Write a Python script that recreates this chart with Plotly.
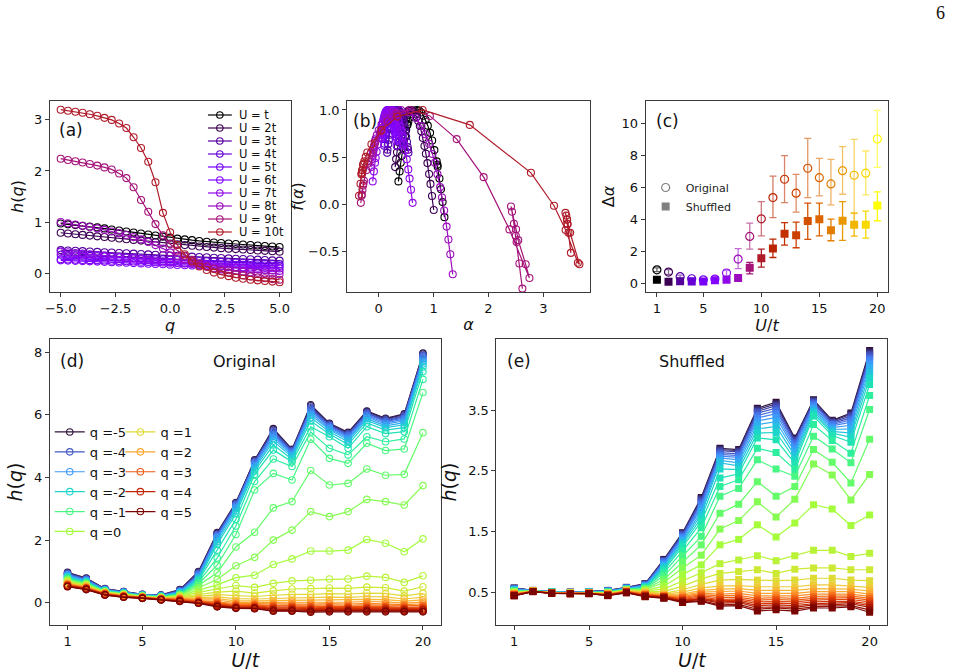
import math
import numpy as np
import plotly.graph_objects as go
from plotly.colors import sample_colorscale

# ---------------- data ----------------
U_VALUES = list(range(1, 21))
Q_VALUES = [-5.0, -4.67, -4.33, -4.0, -3.67, -3.33, -3.0, -2.67, -2.33, -2.0, -1.67,
            -1.33, -1.0, -0.67, -0.33, 0.0, 0.33, 0.67, 1.0, 1.33, 1.67, 2.0, 2.33,
            2.67, 3.0, 3.33, 3.67, 4.0, 4.33, 4.67, 5.0]
A_LEGEND_LABELS = ["U = t", "U = 2t", "U = 3t", "U = 4t", "U = 5t",
                   "U = 6t", "U = 7t", "U = 8t", "U = 9t", "U = 10t"]

# h(q) of the original series, one list per U (q = -5 ... 5)
h_orig_u01 = [0.97, 0.955, 0.94, 0.925, 0.91, 0.895, 0.875, 0.855, 0.835, 0.815, 0.795, 0.775, 0.755, 0.735, 0.715, 0.695, 0.675, 0.66, 0.645, 0.63, 0.615, 0.60, 0.59, 0.58, 0.57, 0.56, 0.55, 0.54, 0.53, 0.52, 0.51]
h_orig_u02 = [0.79, 0.776, 0.762, 0.748, 0.734, 0.72, 0.706, 0.692, 0.678, 0.664, 0.65, 0.636, 0.622, 0.607, 0.592, 0.577, 0.562, 0.548, 0.535, 0.522, 0.51, 0.499, 0.489, 0.479, 0.47, 0.461, 0.452, 0.444, 0.436, 0.428, 0.42]
h_orig_u03 = [0.45, 0.444, 0.437, 0.43, 0.423, 0.416, 0.409, 0.402, 0.395, 0.388, 0.381, 0.373, 0.366, 0.358, 0.351, 0.344, 0.337, 0.33, 0.323, 0.316, 0.309, 0.302, 0.295, 0.289, 0.282, 0.276, 0.27, 0.263, 0.257, 0.25, 0.244]
h_orig_u04 = [0.36, 0.355, 0.349, 0.343, 0.337, 0.331, 0.325, 0.318, 0.312, 0.305, 0.299, 0.292, 0.285, 0.278, 0.271, 0.264, 0.257, 0.25, 0.244, 0.238, 0.232, 0.226, 0.22, 0.214, 0.208, 0.203, 0.197, 0.191, 0.186, 0.18, 0.175]
h_orig_u05 = [0.27, 0.266, 0.262, 0.258, 0.254, 0.25, 0.246, 0.241, 0.237, 0.232, 0.228, 0.223, 0.218, 0.213, 0.208, 0.203, 0.198, 0.194, 0.19, 0.186, 0.181, 0.177, 0.173, 0.169, 0.165, 0.161, 0.157, 0.153, 0.149, 0.145, 0.141]
h_orig_u06 = [0.25, 0.245, 0.24, 0.235, 0.23, 0.225, 0.22, 0.214, 0.208, 0.202, 0.196, 0.19, 0.184, 0.178, 0.172, 0.166, 0.16, 0.154, 0.148, 0.143, 0.138, 0.133, 0.128, 0.123, 0.118, 0.113, 0.109, 0.105, 0.10, 0.096, 0.092]
h_orig_u07 = [0.42, 0.407, 0.394, 0.381, 0.368, 0.355, 0.342, 0.329, 0.316, 0.302, 0.288, 0.274, 0.26, 0.246, 0.232, 0.218, 0.204, 0.19, 0.177, 0.164, 0.151, 0.139, 0.127, 0.115, 0.104, 0.093, 0.082, 0.071, 0.061, 0.051, 0.041]
h_orig_u08 = [1.00, 0.977, 0.953, 0.928, 0.902, 0.875, 0.846, 0.815, 0.782, 0.746, 0.705, 0.66, 0.608, 0.548, 0.48, 0.405, 0.33, 0.262, 0.205, 0.16, 0.124, 0.096, 0.074, 0.056, 0.041, 0.028, 0.017, 0.007, -0.002, -0.01, -0.018]
h_orig_u09 = [2.24, 2.215, 2.19, 2.165, 2.135, 2.105, 2.07, 2.03, 1.95, 1.86, 1.68, 1.43, 1.20, 0.96, 0.74, 0.57, 0.44, 0.34, 0.26, 0.19, 0.13, 0.08, 0.04, 0.01, -0.02, -0.045, -0.067, -0.085, -0.102, -0.117, -0.13]
h_orig_u10 = [3.20, 3.18, 3.16, 3.14, 3.11, 3.08, 3.04, 3.00, 2.93, 2.84, 2.66, 2.45, 2.18, 1.78, 1.18, 0.80, 0.55, 0.37, 0.23, 0.13, 0.06, 0.01, -0.03, -0.06, -0.09, -0.11, -0.13, -0.142, -0.154, -0.166, -0.178]
h_orig_u11 = [4.56, 4.54, 4.52, 4.49, 4.46, 4.42, 4.38, 4.33, 4.27, 4.20, 4.10, 3.87, 3.60, 2.25, 1.45, 0.88, 0.49, 0.31, 0.20, 0.12, 0.06, 0.01, -0.03, -0.06, -0.09, -0.11, -0.13, -0.15, -0.16, -0.18, -0.19]
h_orig_u12 = [5.56, 5.53, 5.50, 5.46, 5.42, 5.37, 5.32, 5.25, 5.16, 5.04, 4.88, 4.59, 4.13, 3.03, 2.00, 1.22, 0.62, 0.38, 0.24, 0.14, 0.07, 0.01, -0.04, -0.08, -0.11, -0.14, -0.17, -0.20, -0.22, -0.25, -0.27]
h_orig_u13 = [4.90, 4.88, 4.86, 4.84, 4.81, 4.78, 4.74, 4.70, 4.65, 4.58, 4.50, 4.35, 3.92, 3.23, 2.32, 1.40, 0.70, 0.44, 0.27, 0.16, 0.08, 0.02, -0.03, -0.07, -0.11, -0.14, -0.17, -0.20, -0.22, -0.25, -0.27]
h_orig_u14 = [6.32, 6.29, 6.25, 6.21, 6.17, 6.12, 6.06, 5.99, 5.91, 5.80, 5.62, 5.45, 5.22, 4.22, 2.91, 1.65, 0.72, 0.45, 0.27, 0.16, 0.08, 0.02, -0.04, -0.08, -0.12, -0.16, -0.19, -0.22, -0.25, -0.27, -0.30]
h_orig_u15 = [5.73, 5.71, 5.69, 5.66, 5.63, 5.60, 5.56, 5.52, 5.46, 5.39, 5.30, 4.93, 4.61, 3.76, 2.75, 1.65, 0.76, 0.47, 0.29, 0.18, 0.09, 0.03, -0.03, -0.08, -0.12, -0.15, -0.18, -0.21, -0.24, -0.26, -0.29]
h_orig_u16 = [5.44, 5.42, 5.39, 5.36, 5.33, 5.29, 5.25, 5.20, 5.14, 5.05, 4.93, 4.72, 4.45, 3.81, 2.91, 1.68, 0.76, 0.46, 0.28, 0.17, 0.09, 0.02, -0.04, -0.08, -0.12, -0.15, -0.18, -0.21, -0.24, -0.26, -0.29]
h_orig_u17 = [6.12, 6.10, 6.07, 6.04, 6.01, 5.97, 5.93, 5.88, 5.82, 5.74, 5.62, 5.30, 5.09, 4.27, 3.30, 2.02, 0.85, 0.50, 0.31, 0.20, 0.11, 0.04, -0.02, -0.07, -0.11, -0.15, -0.18, -0.21, -0.24, -0.26, -0.29]
h_orig_u18 = [5.89, 5.87, 5.84, 5.81, 5.78, 5.74, 5.70, 5.65, 5.59, 5.51, 5.40, 5.14, 4.86, 4.07, 3.23, 1.90, 0.81, 0.48, 0.30, 0.19, 0.10, 0.03, -0.03, -0.08, -0.12, -0.15, -0.18, -0.21, -0.24, -0.26, -0.29]
h_orig_u19 = [6.03, 6.00, 5.97, 5.94, 5.90, 5.86, 5.81, 5.75, 5.68, 5.59, 5.46, 5.23, 4.91, 4.10, 3.12, 1.63, 0.65, 0.37, 0.22, 0.12, 0.05, -0.01, -0.06, -0.10, -0.14, -0.17, -0.20, -0.22, -0.25, -0.27, -0.29]
h_orig_u20 = [7.97, 7.94, 7.91, 7.88, 7.84, 7.80, 7.75, 7.69, 7.62, 7.53, 7.38, 7.13, 6.71, 5.43, 3.74, 2.04, 0.86, 0.51, 0.30, 0.18, 0.09, 0.02, -0.04, -0.09, -0.13, -0.16, -0.19, -0.22, -0.24, -0.27, -0.29]

# h(q) of the shuffled series, one list per U (q = -5 ... 5)
h_shuf_u01 = [0.57, 0.566, 0.562, 0.558, 0.554, 0.55, 0.546, 0.541, 0.536, 0.531, 0.526, 0.521, 0.516, 0.511, 0.506, 0.50, 0.495, 0.49, 0.485, 0.48, 0.476, 0.472, 0.468, 0.464, 0.46, 0.456, 0.452, 0.449, 0.446, 0.443, 0.44]
h_shuf_u02 = [0.53, 0.529, 0.528, 0.528, 0.527, 0.526, 0.526, 0.525, 0.524, 0.524, 0.523, 0.522, 0.522, 0.521, 0.52, 0.52, 0.519, 0.518, 0.518, 0.517, 0.516, 0.516, 0.515, 0.514, 0.514, 0.513, 0.512, 0.512, 0.511, 0.51, 0.51]
h_shuf_u03 = [0.51, 0.509, 0.508, 0.507, 0.506, 0.505, 0.504, 0.503, 0.502, 0.501, 0.50, 0.499, 0.498, 0.497, 0.496, 0.495, 0.494, 0.493, 0.492, 0.491, 0.49, 0.489, 0.488, 0.487, 0.486, 0.485, 0.484, 0.483, 0.482, 0.481, 0.48]
h_shuf_u04 = [0.50, 0.499, 0.498, 0.497, 0.496, 0.495, 0.494, 0.493, 0.492, 0.491, 0.49, 0.489, 0.488, 0.487, 0.486, 0.486, 0.485, 0.484, 0.483, 0.482, 0.482, 0.481, 0.48, 0.479, 0.479, 0.478, 0.478, 0.477, 0.476, 0.476, 0.475]
h_shuf_u05 = [0.51, 0.509, 0.508, 0.507, 0.506, 0.505, 0.503, 0.502, 0.501, 0.50, 0.498, 0.497, 0.496, 0.494, 0.493, 0.492, 0.49, 0.489, 0.488, 0.487, 0.486, 0.485, 0.484, 0.483, 0.482, 0.481, 0.48, 0.479, 0.478, 0.477, 0.476]
h_shuf_u06 = [0.53, 0.528, 0.525, 0.523, 0.52, 0.518, 0.515, 0.512, 0.509, 0.506, 0.503, 0.50, 0.497, 0.494, 0.491, 0.488, 0.485, 0.482, 0.479, 0.476, 0.473, 0.47, 0.467, 0.464, 0.461, 0.458, 0.455, 0.452, 0.449, 0.446, 0.443]
h_shuf_u07 = [0.58, 0.577, 0.574, 0.571, 0.568, 0.565, 0.562, 0.559, 0.556, 0.553, 0.55, 0.547, 0.544, 0.541, 0.538, 0.535, 0.532, 0.529, 0.526, 0.523, 0.52, 0.517, 0.514, 0.511, 0.508, 0.505, 0.502, 0.499, 0.496, 0.493, 0.49]
h_shuf_u08 = [0.64, 0.635, 0.63, 0.624, 0.618, 0.612, 0.606, 0.599, 0.592, 0.585, 0.577, 0.569, 0.56, 0.551, 0.541, 0.531, 0.521, 0.511, 0.502, 0.493, 0.485, 0.477, 0.47, 0.463, 0.457, 0.451, 0.445, 0.44, 0.435, 0.43, 0.425]
h_shuf_u09 = [1.04, 1.03, 1.02, 1.01, 1.00, 0.98, 0.96, 0.94, 0.92, 0.89, 0.86, 0.82, 0.77, 0.71, 0.66, 0.60, 0.55, 0.51, 0.48, 0.47, 0.46, 0.45, 0.44, 0.44, 0.43, 0.43, 0.42, 0.42, 0.41, 0.41, 0.40]
h_shuf_u10 = [1.48, 1.47, 1.46, 1.44, 1.42, 1.40, 1.38, 1.35, 1.32, 1.29, 1.25, 1.18, 1.10, 1.00, 0.90, 0.79, 0.68, 0.60, 0.54, 0.50, 0.47, 0.45, 0.43, 0.41, 0.40, 0.38, 0.37, 0.36, 0.35, 0.34, 0.33]
h_shuf_u11 = [2.06, 2.04, 2.02, 1.99, 1.96, 1.92, 1.88, 1.83, 1.78, 1.72, 1.66, 1.56, 1.42, 1.28, 1.11, 0.95, 0.82, 0.72, 0.63, 0.57, 0.53, 0.50, 0.48, 0.46, 0.44, 0.42, 0.40, 0.39, 0.38, 0.36, 0.35]
h_shuf_u12 = [2.87, 2.85, 2.83, 2.80, 2.77, 2.74, 2.71, 2.67, 2.63, 2.53, 2.38, 2.24, 2.08, 1.80, 1.54, 1.28, 0.97, 0.81, 0.70, 0.60, 0.55, 0.51, 0.47, 0.44, 0.41, 0.38, 0.36, 0.34, 0.32, 0.29, 0.27]
h_shuf_u13 = [2.85, 2.83, 2.81, 2.78, 2.75, 2.72, 2.68, 2.63, 2.58, 2.52, 2.45, 2.35, 2.21, 1.95, 1.68, 1.37, 1.03, 0.84, 0.71, 0.61, 0.56, 0.52, 0.48, 0.45, 0.42, 0.39, 0.37, 0.35, 0.33, 0.30, 0.28]
h_shuf_u14 = [3.53, 3.51, 3.48, 3.45, 3.41, 3.37, 3.32, 3.26, 3.19, 3.12, 3.04, 2.87, 2.68, 2.32, 1.99, 1.61, 1.10, 0.87, 0.70, 0.59, 0.53, 0.48, 0.44, 0.40, 0.37, 0.34, 0.31, 0.28, 0.25, 0.22, 0.19]
h_shuf_u15 = [3.63, 3.60, 3.57, 3.53, 3.49, 3.44, 3.38, 3.31, 3.23, 3.13, 3.01, 2.80, 2.53, 2.08, 1.74, 1.41, 1.02, 0.81, 0.69, 0.59, 0.53, 0.48, 0.44, 0.41, 0.38, 0.35, 0.32, 0.29, 0.26, 0.24, 0.21]
h_shuf_u16 = [3.04, 3.02, 3.00, 2.97, 2.94, 2.90, 2.86, 2.81, 2.75, 2.69, 2.62, 2.52, 2.41, 2.24, 2.03, 1.64, 1.10, 0.88, 0.70, 0.59, 0.53, 0.48, 0.44, 0.40, 0.37, 0.34, 0.31, 0.28, 0.25, 0.22, 0.19]
h_shuf_u17 = [3.67, 3.66, 3.64, 3.62, 3.60, 3.57, 3.54, 3.51, 3.48, 3.44, 3.40, 3.26, 3.07, 2.85, 2.61, 1.94, 1.19, 0.90, 0.73, 0.62, 0.56, 0.51, 0.47, 0.43, 0.40, 0.37, 0.34, 0.31, 0.29, 0.26, 0.24]
h_shuf_u18 = [3.33, 3.32, 3.30, 3.28, 3.26, 3.24, 3.21, 3.18, 3.15, 3.12, 3.08, 3.00, 2.86, 2.64, 2.43, 1.87, 1.19, 0.90, 0.73, 0.62, 0.56, 0.51, 0.47, 0.44, 0.41, 0.38, 0.35, 0.32, 0.29, 0.27, 0.24]
h_shuf_u19 = [3.45, 3.43, 3.40, 3.37, 3.34, 3.30, 3.25, 3.19, 3.12, 3.05, 2.97, 2.79, 2.63, 2.30, 2.02, 1.60, 1.09, 0.87, 0.70, 0.60, 0.55, 0.51, 0.47, 0.44, 0.41, 0.38, 0.35, 0.33, 0.31, 0.28, 0.26]
h_shuf_u20 = [4.48, 4.45, 4.42, 4.39, 4.35, 4.31, 4.26, 4.20, 4.12, 4.03, 3.92, 3.74, 3.51, 3.02, 2.44, 1.77, 1.14, 0.87, 0.69, 0.58, 0.52, 0.47, 0.43, 0.40, 0.37, 0.34, 0.31, 0.28, 0.25, 0.21, 0.17]

# Delta alpha (panel c): mean, upper and lower error
dalpha_orig = [0.83, 0.69, 0.40, 0.27, 0.20, 0.25, 0.63, 1.50, 2.92, 4.02, 5.35, 6.50, 5.63, 7.19, 6.60, 6.21, 7.04, 6.75, 6.88, 9.02]
dalpha_orig_up = [0.12, 0.15, 0.10, 0.07, 0.06, 0.07, 0.18, 0.65, 0.83, 1.08, 1.35, 1.48, 1.18, 1.87, 1.21, 1.54, 1.50, 2.25, 1.39, 1.79]
dalpha_orig_dn = [0.12, 0.15, 0.10, 0.07, 0.06, 0.07, 0.18, 0.60, 0.80, 1.06, 1.25, 1.46, 1.19, 1.84, 1.14, 1.31, 1.48, 2.37, 1.36, 1.77]
dalpha_shuf = [0.21, 0.08, 0.12, 0.10, 0.10, 0.17, 0.21, 0.31, 0.96, 1.56, 2.17, 3.08, 3.00, 3.88, 4.00, 3.31, 3.90, 3.65, 3.65, 4.85]
dalpha_shuf_up = [0.04, 0.04, 0.08, 0.05, 0.04, 0.05, 0.07, 0.08, 0.33, 0.56, 0.58, 0.71, 0.81, 1.12, 1.00, 0.69, 1.20, 0.73, 0.85, 0.86]
dalpha_shuf_dn = [0.04, 0.04, 0.06, 0.05, 0.04, 0.05, 0.07, 0.08, 0.38, 0.56, 0.57, 0.70, 0.79, 1.15, 1.04, 0.66, 1.23, 0.71, 0.84, 0.95]

H_ORIG = [h_orig_u01, h_orig_u02, h_orig_u03, h_orig_u04, h_orig_u05, h_orig_u06, h_orig_u07,
          h_orig_u08, h_orig_u09, h_orig_u10, h_orig_u11, h_orig_u12, h_orig_u13, h_orig_u14,
          h_orig_u15, h_orig_u16, h_orig_u17, h_orig_u18, h_orig_u19, h_orig_u20]
H_SHUF = [h_shuf_u01, h_shuf_u02, h_shuf_u03, h_shuf_u04, h_shuf_u05, h_shuf_u06, h_shuf_u07,
          h_shuf_u08, h_shuf_u09, h_shuf_u10, h_shuf_u11, h_shuf_u12, h_shuf_u13, h_shuf_u14,
          h_shuf_u15, h_shuf_u16, h_shuf_u17, h_shuf_u18, h_shuf_u19, h_shuf_u20]
for _i, _row in enumerate(H_ORIG + H_SHUF):
    if len(_row) != len(Q_VALUES):
        raise ValueError(f"row {_i} has {len(_row)} values")

# ---------------- helpers ----------------
W, H = 962, 672
FONT = "DejaVu Sans"


def px(x):
    return x / W


def py(y):
    return 1 - y / H


def gnuplot(x, a=1.0):
    r = math.sqrt(x)
    g = x ** 3
    b = max(0.0, math.sin(2 * math.pi * x))
    return f"rgba({round(255 * r)},{round(255 * g)},{round(255 * b)},{a})"


turbo = sample_colorscale("Turbo", [i / (len(Q_VALUES) - 1) for i in range(len(Q_VALUES))])

fig = go.Figure()

# ---------------- (a) h(q) for U = 1..10 ----------------
for k in range(10):
    c = gnuplot(k / 19)
    fig.add_trace(go.Scatter(x=Q_VALUES, y=H_ORIG[k], xaxis="x", yaxis="y",
                             mode="lines+markers", showlegend=False,
                             line=dict(color=c, width=1.2),
                             marker=dict(symbol="circle-open", size=7, color=c, line=dict(width=1.1))))

# ---------------- (b) f(alpha) spectrum, Legendre transform of h(q) ----------------
qarr = np.array(Q_VALUES)
for k in range(10):
    c = gnuplot(k / 19)
    h = np.array(H_ORIG[k])
    dh = np.gradient(h, qarr)
    alpha = h + qarr * dh
    f = 1 + qarr ** 2 * dh
    fig.add_trace(go.Scatter(x=alpha, y=f, xaxis="x2", yaxis="y2",
                             mode="lines+markers", showlegend=False,
                             line=dict(color=c, width=1.2),
                             marker=dict(symbol="circle-open", size=7, color=c, line=dict(width=1.1))))

# ---------------- (c) Delta alpha ----------------
for k, U in enumerate(U_VALUES):
    c = gnuplot(k / 19)
    fig.add_trace(go.Scatter(x=[U], y=[dalpha_orig[k]], xaxis="x3", yaxis="y3", mode="markers",
                             showlegend=False,
                             error_y=dict(type="data", symmetric=False, array=[dalpha_orig_up[k]],
                                          arrayminus=[dalpha_orig_dn[k]], color=gnuplot(k / 19, 0.6),
                                          thickness=1.3, width=3.5),
                             marker=dict(symbol="circle-open", size=8, color=c, line=dict(width=1.2))))
for k, U in enumerate(U_VALUES):
    c = gnuplot(k / 19)
    fig.add_trace(go.Scatter(x=[U], y=[dalpha_shuf[k]], xaxis="x3", yaxis="y3", mode="markers",
                             showlegend=False,
                             error_y=dict(type="data", symmetric=False, array=[dalpha_shuf_up[k]],
                                          arrayminus=[dalpha_shuf_dn[k]], color=c,
                                          thickness=1.3, width=3.5),
                             marker=dict(symbol="square", size=8, color=c)))
fig.add_trace(go.Scatter(x=[None], y=[None], xaxis="x3", yaxis="y3", mode="markers", name="Original",
                         legend="legend2",
                         marker=dict(symbol="circle-open", size=8, color="#808080", line=dict(width=1.2))))
fig.add_trace(go.Scatter(x=[None], y=[None], xaxis="x3", yaxis="y3", mode="markers", name="Shuffled",
                         legend="legend2", marker=dict(symbol="square", size=8, color="#808080")))

# ---------------- (d) original h(q) vs U/t ----------------
for j, q in enumerate(Q_VALUES):
    ys = [H_ORIG[k][j] for k in range(len(U_VALUES))]
    is_int = abs(q - round(q)) < 1e-6
    qi = int(round(q))
    fig.add_trace(go.Scatter(x=U_VALUES, y=ys, xaxis="x4", yaxis="y4", mode="lines+markers",
                             name=f"q ={qi}", showlegend=is_int,
                             legend="legend3" if qi <= 0 else "legend4",
                             line=dict(color=turbo[j], width=1.2),
                             marker=dict(symbol="circle-open", size=6.5, color=turbo[j], line=dict(width=1.1))))

# ---------------- (e) shuffled h(q) vs U/t ----------------
for j, q in enumerate(Q_VALUES):
    ys = [H_SHUF[k][j] for k in range(len(U_VALUES))]
    fig.add_trace(go.Scatter(x=U_VALUES, y=ys, xaxis="x5", yaxis="y5", mode="lines+markers",
                             showlegend=False,
                             line=dict(color=turbo[j], width=1.2),
                             marker=dict(symbol="square", size=7, color=turbo[j])))

# ---------------- layout ----------------
LINE_C = "#3a3a3a"


def ax(domain, rng, tickvals, ticktext, title, tsize, standoff, anchor):
    return dict(domain=domain, range=rng, tickvals=tickvals, ticktext=ticktext,
                showline=True, linecolor=LINE_C, linewidth=1, mirror=True,
                ticks="outside", ticklen=4, tickwidth=1, tickcolor=LINE_C,
                showgrid=False, zeroline=False, anchor=anchor,
                tickfont=dict(family=FONT, size=13, color="#111"),
                title=dict(text=title, font=dict(family=FONT, size=tsize, color="#111"), standoff=standoff))


top_dom = [py(292), py(101)]
bot_dom = [py(625), py(339)]
U_TICKS = [1, 5, 10, 15, 20]

layout = dict(
    width=W, height=H, margin=dict(l=0, r=0, t=0, b=0),
    paper_bgcolor="white", plot_bgcolor="white",
    xaxis=ax([px(45), px(287)], [-5.5, 5.5], [-5, -2.5, 0, 2.5, 5],
             ["\u22125.0", "\u22122.5", "0.0", "2.5", "5.0"], "<i>q</i>", 16, 4, "y"),
    yaxis=ax(top_dom, [-0.37, 3.37], [0, 1, 2, 3], ["0", "1", "2", "3"], "<i>h</i>(<i>q</i>)", 16, 6, "x"),
    xaxis2=ax([px(344), px(588)], [-0.575, 3.85], [0, 1, 2, 3], ["0", "1", "2", "3"], "<i>\u03b1</i>", 16, 4, "y2"),
    yaxis2=ax(top_dom, [-0.93, 1.095], [-0.5, 0, 0.5, 1.0], ["\u22120.5", "0.0", "0.5", "1.0"],
              "<i>f</i>(<i>\u03b1</i>)", 16, 0, "x2"),
    xaxis3=ax([px(644), px(888)], [0.03, 20.95], U_TICKS, [str(v) for v in U_TICKS],
              "<i>U</i>/<i>t</i>", 16, 4, "y3"),
    yaxis3=ax(top_dom, [-0.56, 11.4], [0, 2, 4, 6, 8, 10], ["0", "2", "4", "6", "8", "10"],
              "\u0394<i>\u03b1</i>", 16, 2, "x3"),
    xaxis4=ax([px(45), px(438)], [0.05, 20.95], U_TICKS, [str(v) for v in U_TICKS],
              "<i>U</i>/<i>t</i>", 19, 2, "y4"),
    yaxis4=ax(bot_dom, [-0.71, 8.42], [0, 2, 4, 6, 8], ["0", "2", "4", "6", "8"],
              "<i>h</i>(<i>q</i>)", 19, 6, "x4"),
    xaxis5=ax([px(494), px(887)], [0.05, 20.95], U_TICKS, [str(v) for v in U_TICKS],
              "<i>U</i>/<i>t</i>", 19, 2, "y5"),
    yaxis5=ax(bot_dom, [-0.04, 4.67], [0.5, 1.5, 2.5, 3.5], ["0.5", "1.5", "2.5", "3.5"],
              "<i>h</i>(<i>q</i>)", 19, 6, "x5"),
    legend2=dict(x=px(644), y=py(173), xanchor="left", yanchor="top", bgcolor="rgba(0,0,0,0)",
                 font=dict(family=FONT, size=11, color="#222"), itemwidth=30),
    legend3=dict(x=px(45), y=py(417), xanchor="left", yanchor="top", bgcolor="rgba(0,0,0,0)",
                 font=dict(family=FONT, size=13, color="#111"), itemwidth=30),
    legend4=dict(x=px(116), y=py(417), xanchor="left", yanchor="top", bgcolor="rgba(0,0,0,0)",
                 font=dict(family=FONT, size=13, color="#111"), itemwidth=30),
)

# legend of panel (a), drawn as small line + circle samples with text
shapes = []
annotations = []
for k, lab in enumerate(A_LEGEND_LABELS):
    c = gnuplot(k / 19)
    yk = 115 + 13 * k
    shapes.append(dict(type="line", xref="paper", yref="paper", x0=px(204), x1=px(228),
                       y0=py(yk), y1=py(yk), line=dict(color=c, width=1.2)))
    shapes.append(dict(type="circle", xref="paper", yref="paper", x0=px(212.7), x1=px(219.3),
                       y0=py(yk + 3.3), y1=py(yk - 3.3), line=dict(color=c, width=1.1),
                       fillcolor="rgba(0,0,0,0)"))
    annotations.append(dict(text=lab, xref="paper", yref="paper", x=px(233), y=py(yk),
                            xanchor="left", yanchor="middle", showarrow=False,
                            font=dict(family=FONT, size=11.5, color="#111")))

for text, x, y, size in [("(a)", 52, 130, 17), ("(b)", 348, 121, 17), ("(c)", 652, 121, 17),
                         ("(d)", 53, 361, 17), ("(e)", 503, 361, 17)]:
    annotations.append(dict(text=text, xref="paper", yref="paper", x=px(x), y=py(y), xanchor="left",
                            yanchor="middle", showarrow=False, font=dict(family=FONT, size=size, color="#111")))
annotations.append(dict(text="Original", xref="paper", yref="paper", x=px(241), y=py(361), xanchor="center",
                        yanchor="middle", showarrow=False, font=dict(family=FONT, size=16, color="#111")))
annotations.append(dict(text="Shuffled", xref="paper", yref="paper", x=px(691), y=py(361), xanchor="center",
                        yanchor="middle", showarrow=False, font=dict(family=FONT, size=16, color="#111")))
annotations.append(dict(text="6", xref="paper", yref="paper", x=px(940), y=py(13), xanchor="center",
                        yanchor="middle", showarrow=False,
                        font=dict(family="Liberation Serif", size=18, color="#111")))

layout["shapes"] = shapes
layout["annotations"] = annotations
fig.update_layout(**layout)
fig.write_html("out.html")
